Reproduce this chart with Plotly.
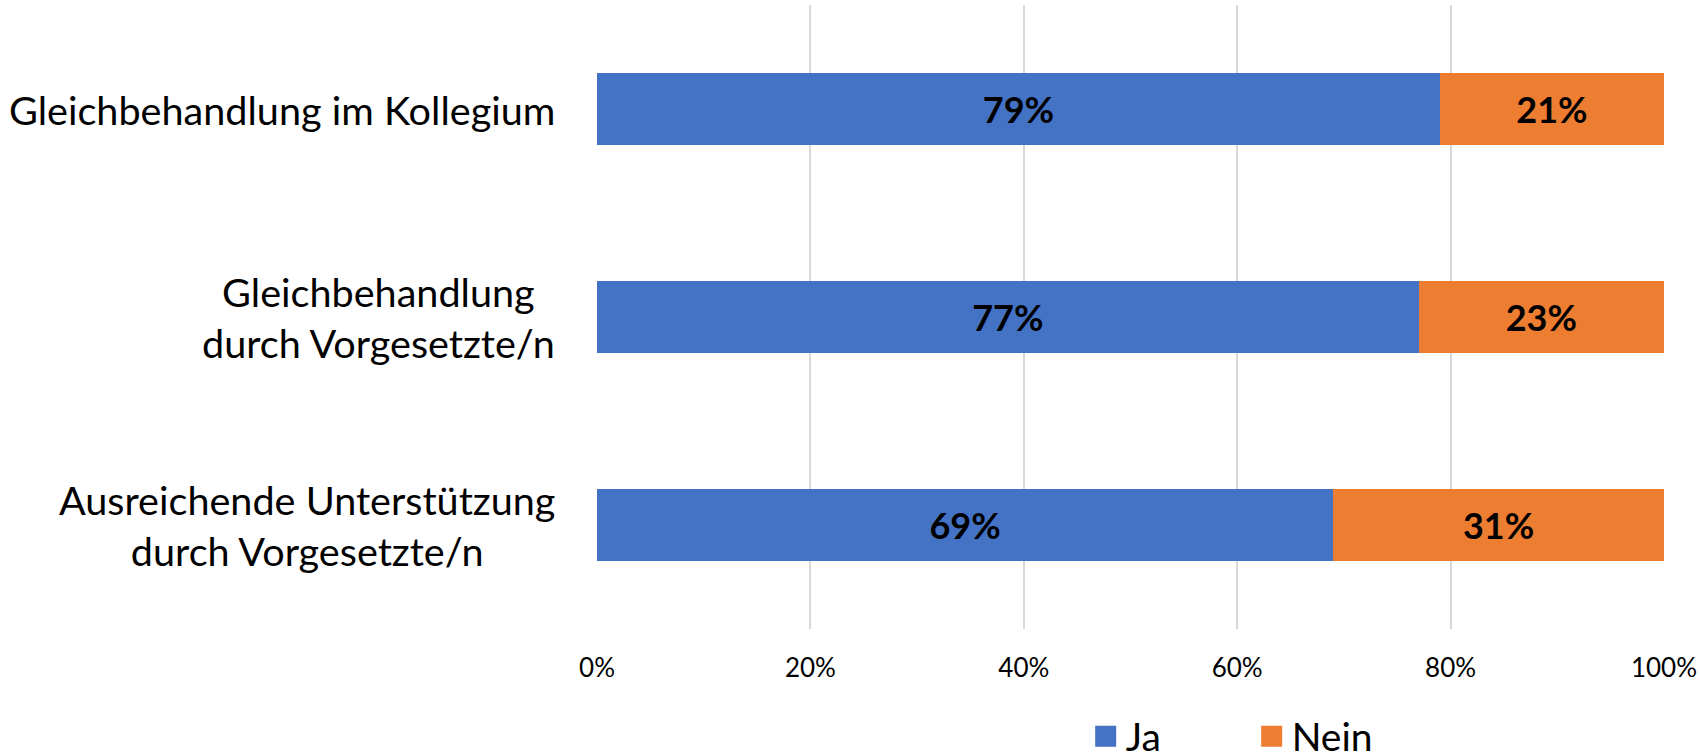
import plotly.graph_objects as go

categories = ['Gleichbehandlung im Kollegium',
              'Gleichbehandlung<br>durch Vorgesetzte/n',
              'Ausreichende Unterstützung<br>durch Vorgesetzte/n']
ja = [79, 77, 69]
nein = [21, 23, 31]
tick_vals = [0, 20, 40, 60, 80, 100]
tick_text = ['0%', '20%', '40%', '60%', '80%', '100%']

blue = '#4472C4'
orange = '#ED7D31'
font = 'Lato'

fig = go.Figure()
fig.add_trace(go.Bar(y=categories, x=ja, orientation='h', name='Ja',
                     marker=dict(color=blue, line=dict(width=0)),
                     text=[f'{v}%' for v in ja], textposition='inside',
                     insidetextanchor='middle', showlegend=False,
                     textfont=dict(family=font, size=36, color='black', weight='bold')))
fig.add_trace(go.Bar(y=categories, x=nein, orientation='h', name='Nein',
                     marker=dict(color=orange, line=dict(width=0)),
                     text=[f'{v}%' for v in nein], textposition='inside',
                     insidetextanchor='middle', showlegend=False,
                     textfont=dict(family=font, size=36, color='black', weight='bold')))

# legend entries with bigger squares (size is capped, the outline makes them larger)
for name, col in [('Ja', blue), ('Nein', orange)]:
    fig.add_trace(go.Scatter(x=[None], y=[None], mode='markers', name=name,
                             marker=dict(symbol='square', size=16, color=col,
                                         line=dict(color=col, width=5))))

# category labels, centered lines like the original
for c in categories:
    fig.add_annotation(x=0, xref='paper', y=c, yref='y', text=c, showarrow=False,
                       xanchor='right', align='center', xshift=-40,
                       font=dict(family=font, size=39.6, color='black'))

fig.update_layout(
    width=1700, height=756,
    barmode='stack', bargap=0.65,
    plot_bgcolor='white', paper_bgcolor='white',
    margin=dict(l=597, r=36, t=5, b=127),
    font=dict(family=font, color='black'),
    xaxis=dict(range=[0, 100], tickvals=tick_vals, ticktext=tick_text,
               showgrid=True, gridcolor='#D9D9D9', gridwidth=2,
               zeroline=False, showline=False, ticks='', automargin=False,
               tickfont=dict(family=font, size=26, color='black'),
               ticklabelstandoff=21),
    yaxis=dict(autorange='reversed', showticklabels=False, showgrid=False,
               zeroline=False, showline=False, ticks='', automargin=False),
    legend=dict(orientation='h', traceorder='normal',
                x=0.458, xanchor='left', y=0.026, yref='container', yanchor='middle',
                font=dict(family=font, size=39, color='black'),
                itemsizing='trace', entrywidth=121, entrywidthmode='pixels'),
)

# drop the default page margin so the figure sits at the window's corner
fig.write_html('out.html', config={'displayModeBar': False},
               post_script="document.body.style.margin='0';")
